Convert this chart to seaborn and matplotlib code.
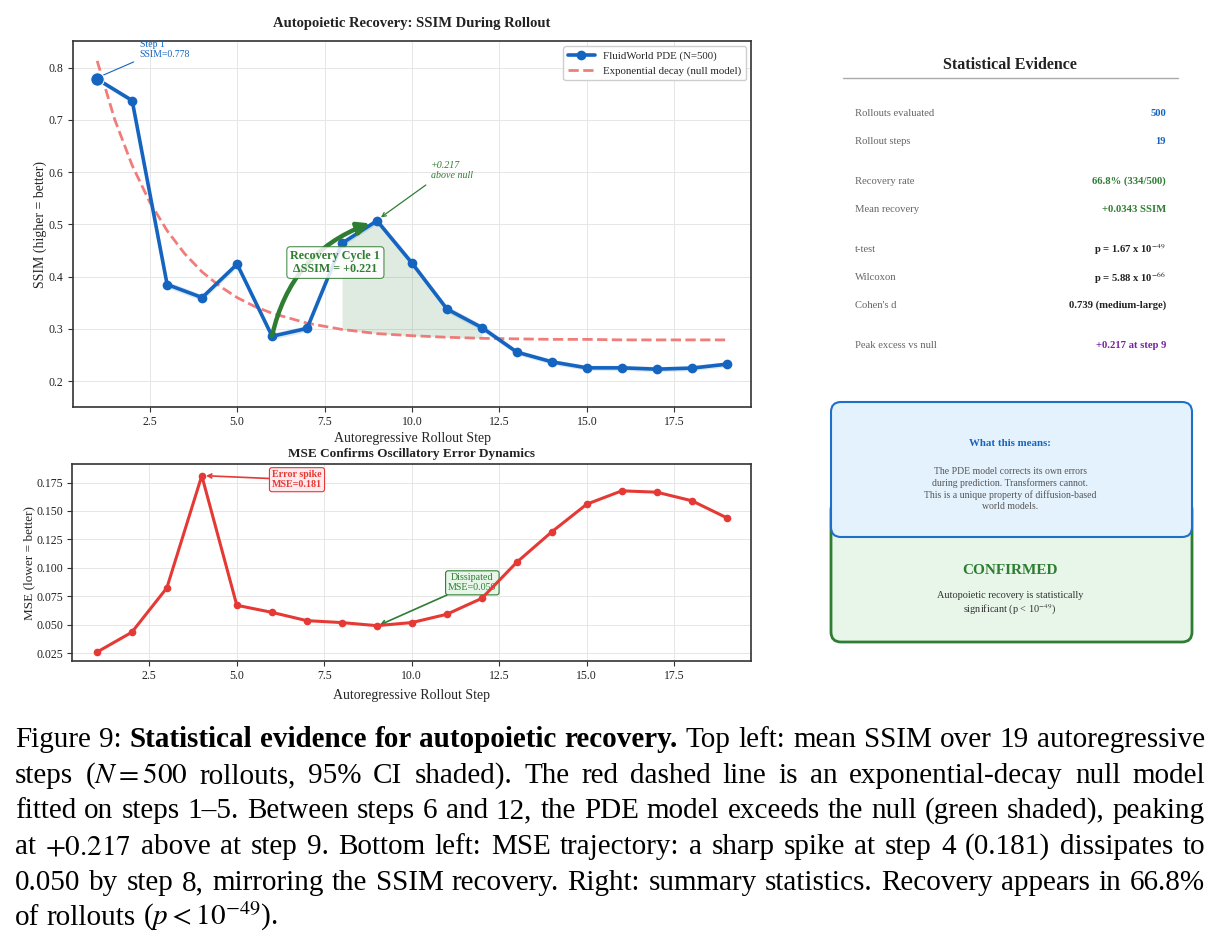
import numpy as np
import pandas as pd
import matplotlib
matplotlib.use("Agg")
import matplotlib.pyplot as plt
import seaborn as sns
from matplotlib.patches import FancyBboxPatch

# ---- data ----
steps = list(range(1, 20))
ssim = [0.778, 0.737, 0.385, 0.360, 0.424, 0.286, 0.301, 0.464, 0.507, 0.426,
        0.338, 0.3025, 0.2555, 0.237, 0.2255, 0.2255, 0.223, 0.225, 0.2325]
ssim_ci = [0.004, 0.005, 0.006, 0.006, 0.006, 0.006, 0.006, 0.006, 0.006, 0.006,
           0.006, 0.006, 0.005, 0.005, 0.005, 0.005, 0.005, 0.005, 0.005]
null_steps = [1, 1.5, 2, 2.5, 3, 3.5, 4, 4.5, 5, 5.5, 6, 7, 8, 9, 10, 11, 12,
              13, 14, 15, 16, 17, 18, 19]
null_ssim = [0.813, 0.701, 0.613, 0.543, 0.488, 0.444, 0.409, 0.382, 0.360, 0.343,
             0.330, 0.311, 0.299, 0.291, 0.287, 0.284, 0.282, 0.281, 0.280, 0.280,
             0.279, 0.279, 0.279, 0.279]
mse = [0.026, 0.0435, 0.0824, 0.181, 0.0672, 0.061, 0.0537, 0.052, 0.0493, 0.052,
       0.0593, 0.0733, 0.105, 0.1317, 0.156, 0.1677, 0.1665, 0.159, 0.144]

stat_labels = ["Rollouts evaluated", "Rollout steps", "Recovery rate", "Mean recovery",
               "t-test", "Wilcoxon", "Cohen's d", "Peak excess vs null"]
stat_values = ["500", "19", "66.8% (334/500)", "+0.0343 SSIM",
               r"p = 1.67 x 10$^{-49}$", r"p = 5.88 x 10$^{-66}$",
               "0.739 (medium-large)", "+0.217 at step 9"]

caption_lines = [
    "Figure 9: *Statistical *evidence *for *autopoietic *recovery. Top left: mean SSIM over 19 autoregressive",
    "steps ($N=500$ rollouts, 95% CI shaded). The red dashed line is an exponential-decay null model",
    "fitted on steps 1\u20135. Between steps 6 and 12, the PDE model exceeds the null (green shaded), peaking",
    "at $+0.217$ above at step 9. Bottom left: MSE trajectory: a sharp spike at step 4 (0.181) dissipates to",
    "0.050 by step 8, mirroring the SSIM recovery. Right: summary statistics. Recovery appears in 66.8%",
    "of rollouts ($p<10^{-49}$).",
]

BLUE = "#1565c0"
RED = "#e53935"
NULLRED = "#ef6f6c"
GREEN = "#2e7d32"
PURPLE = "#7b1fa2"

sns.set_theme(style="whitegrid")
plt.rcParams["font.family"] = ["Liberation Serif", "DejaVu Serif"]
plt.rcParams["mathtext.fontset"] = "stix"

W, H = 1221, 935
fig = plt.figure(figsize=(W / 100, H / 100), dpi=100)


def style_axes(ax):
    for s in ax.spines.values():
        s.set_visible(True)
        s.set_color("#333333")
        s.set_linewidth(1.2)
    ax.grid(True, color="#e6e6e6", lw=0.7)
    ax.tick_params(axis="both", labelsize=8.5, length=3.5, width=0.8, color="#333333",
                   left=True, bottom=True, pad=3, labelcolor="#222222")


# ---- top: SSIM ----
ax1 = fig.add_axes([72.7 / W, 1 - 407.3 / H, 678.6 / W, 366.3 / H])
df = pd.DataFrame({"step": steps, "ssim": ssim, "ci": ssim_ci})
dn = pd.DataFrame({"step": null_steps, "null": null_ssim})

lo = [s - c for s, c in zip(ssim, ssim_ci)]
hi = [s + c for s, c in zip(ssim, ssim_ci)]
ax1.fill_between(steps, lo, hi, color=BLUE, alpha=0.15, lw=0, zorder=2)

rec = df.merge(dn, on="step")
rec = rec[(rec["step"] >= 8) & (rec["step"] <= 12)]
ax1.fill_between(rec["step"], rec["null"], rec["ssim"], color=GREEN, alpha=0.15,
                 lw=0, zorder=1)

sns.lineplot(data=df, x="step", y="ssim", ax=ax1, color=BLUE, lw=2.6, marker="o",
             markersize=7, markeredgewidth=0, label="FluidWorld PDE (N=500)", zorder=4)
sns.lineplot(data=dn, x="step", y="null", ax=ax1, color=NULLRED, lw=2, ls="--",
             alpha=0.9, label="Exponential decay (null model)", zorder=3)
ax1.scatter([steps[0]], [ssim[0]], s=95, color=BLUE, edgecolor="white", lw=0.8, zorder=6)

ax1.set_xlim(0.3, 19.7)
ax1.set_ylim(0.15, 0.851)
ax1.set_xticks([2.5, 5.0, 7.5, 10.0, 12.5, 15.0, 17.5])
ax1.set_yticks([0.2, 0.3, 0.4, 0.5, 0.6, 0.7, 0.8])
style_axes(ax1)
ax1.set_xlabel("Autoregressive Rollout Step", fontsize=10, labelpad=3)
ax1.set_ylabel("SSIM (higher = better)", fontsize=10, labelpad=1)
ax1.set_title("Autopoietic Recovery: SSIM During Rollout", fontsize=10.5,
              fontweight="bold", pad=10, color="#222222")
ax1.legend(loc="upper right", fontsize=7.8, frameon=True, framealpha=0.95,
           edgecolor="#cccccc", fancybox=True, handlelength=2.5)

ax1.annotate("Step 1\nSSIM=0.778", xy=(1.15, 0.785), xytext=(2.21, 0.834),
             fontsize=7, color=BLUE, ha="left", va="center", linespacing=1.15,
             arrowprops=dict(arrowstyle="-", color=BLUE, lw=0.8, relpos=(0, 0),
                             shrinkA=2, shrinkB=0))
ax1.annotate("", xy=(8.8, 0.502), xytext=(6.0, 0.287),
             arrowprops=dict(arrowstyle="-|>,head_length=0.6,head_width=0.3",
                             color=GREEN, lw=3.2,
                             connectionstyle="arc3,rad=-0.27", shrinkA=0, shrinkB=0),
             zorder=5)
ax1.text(7.81, 0.427, "Recovery Cycle 1\n\u0394SSIM = +0.221", fontsize=8.7,
         fontweight="bold", color=GREEN, ha="center", va="center", linespacing=1.05,
         zorder=7,
         bbox=dict(boxstyle="round,pad=0.3", fc="white", ec=GREEN, lw=0.8, alpha=0.85))
ax1.annotate("+0.217\nabove null", xy=(9.08, 0.512), xytext=(10.53, 0.603),
             fontsize=7.2, style="italic", color=GREEN, ha="left", va="center",
             linespacing=1.15,
             arrowprops=dict(arrowstyle="->", color=GREEN, lw=0.9, relpos=(0.05, 0),
                             shrinkA=2, shrinkB=1))

# ---- bottom: MSE ----
ax2 = fig.add_axes([72.3 / W, 1 - 661.3 / H, 679.0 / W, 197.0 / H])
dm = pd.DataFrame({"step": steps, "mse": mse})
sns.lineplot(data=dm, x="step", y="mse", ax=ax2, color=RED, lw=2.2, marker="o",
             markersize=5.5, markeredgewidth=0, zorder=4)
ax2.set_xlim(0.3, 19.7)
ax2.set_ylim(0.018, 0.191)
ax2.set_xticks([2.5, 5.0, 7.5, 10.0, 12.5, 15.0, 17.5])
ax2.set_yticks([0.025, 0.05, 0.075, 0.1, 0.125, 0.15, 0.175])
ax2.set_yticklabels(["0.025", "0.050", "0.075", "0.100", "0.125", "0.150", "0.175"])
style_axes(ax2)
ax2.set_xlabel("Autoregressive Rollout Step", fontsize=10, labelpad=5)
ax2.set_ylabel("MSE (lower = better)", fontsize=9.5, labelpad=1)
ax2.set_title("MSE Confirms Oscillatory Error Dynamics", fontsize=9.5,
              fontweight="bold", pad=5, color="#222222")
ax2.annotate("Error spike\nMSE=0.181", xy=(4.08, 0.181), xytext=(6.72, 0.1775),
             fontsize=7.2, fontweight="bold", color=RED, ha="center", va="center",
             linespacing=1.15,
             bbox=dict(boxstyle="round,pad=0.25", fc="#ffebee", ec=RED, lw=0.8),
             arrowprops=dict(arrowstyle="->", color=RED, lw=1.2, shrinkA=0, shrinkB=1))
ax2.annotate("Dissipated\nMSE=0.050", xy=(9.05, 0.0495), xytext=(11.73, 0.0869),
             fontsize=7.2, color=GREEN, ha="center", va="center", linespacing=1.15,
             bbox=dict(boxstyle="round,pad=0.25", fc="#e8f5e9", ec=GREEN, lw=0.8),
             arrowprops=dict(arrowstyle="->", color=GREEN, lw=1.2, relpos=(0.1, 0),
                             shrinkA=0, shrinkB=1))

# ---- right: statistics panel (axes in pixel units) ----
ax3 = fig.add_axes([825 / W, 1 - 660 / H, 375 / W, 625 / H])
ax3.set_xlim(825, 1200)
ax3.set_ylim(660, 35)
ax3.axis("off")

ax3.text(1010, 65, "Statistical Evidence", fontsize=11.5, fontweight="bold",
         ha="center", va="center", color="#222222")
ax3.plot([843, 1178], [78, 78], color="#aaaaaa", lw=1)
row_y = [113, 141, 181, 209, 250, 278, 305, 346]
row_c = [BLUE, BLUE, GREEN, GREEN, "#222222", "#222222", "#222222", PURPLE]
for lab, val, yy, cc in zip(stat_labels, stat_values, row_y, row_c):
    ax3.text(855, yy, lab, fontsize=7.7, color="#666666", ha="left", va="center")
    ax3.text(1166, yy, val, fontsize=7.7, color=cc, ha="right", va="center",
             fontweight="bold")

ax3.add_patch(FancyBboxPatch((831, 500), 361, 142,
                             boxstyle="round,pad=0,rounding_size=10",
                             fc="#e8f5e9", ec=GREEN, lw=2, zorder=2))
ax3.add_patch(FancyBboxPatch((831, 402), 361, 135,
                             boxstyle="round,pad=0,rounding_size=10",
                             fc="#e3f2fd", ec="#1e6fc8", lw=1.5, zorder=3))
ax3.text(1010, 443, "What this means:", fontsize=7.8, fontweight="bold", color=BLUE,
         ha="center", va="center", zorder=4)
ax3.text(1010, 489, "The PDE model corrects its own errors\nduring prediction. Transformers cannot.\n"
         "This is a unique property of diffusion-based\nworld models.",
         fontsize=7, color="#555555", ha="center", va="center", linespacing=1.3,
         zorder=4)
ax3.text(1010, 570, "CONFIRMED", fontsize=11, fontweight="bold", color=GREEN,
         ha="center", va="center", zorder=4)
ax3.text(1010, 604, "Autopoietic recovery is statistically\nsignificant (p < 10$^{-49}$)",
         fontsize=7.4, color="#333333", ha="center", va="center", linespacing=1.3,
         zorder=4)

# ---- caption (justified) ----
renderer = fig.canvas.get_renderer()
left_px, right_px = 15, 1205
baselines = [747, 783, 818, 854, 890, 925]


def tokens(line):
    out = []
    for w in line.split(" "):
        if w.startswith("*"):
            out.append((w[1:], "bold"))
        else:
            out.append((w, "normal"))
    return out


def measure(size):
    widths = []
    for line in caption_lines:
        ws = []
        for word, wt in tokens(line):
            t = fig.text(0, 0, word, fontsize=size, fontweight=wt)
            ws.append(t.get_window_extent(renderer).width)
            t.remove()
        widths.append(ws)
    return widths


size = 22.0
while True:
    widths = measure(size)
    space = 0.25 * size * 100 / 72
    nat = max(sum(ws) + space * (len(ws) - 1) for ws in widths)
    if nat <= right_px - left_px or size <= 12:
        break
    size -= 0.5

for i, line in enumerate(caption_lines):
    toks = tokens(line)
    ws = widths[i]
    if i < len(caption_lines) - 1 and len(toks) > 1:
        gap = (right_px - left_px - sum(ws)) / (len(toks) - 1)
    else:
        gap = space
    x = left_px
    for (word, wt), w in zip(toks, ws):
        fig.text(x / W, 1 - baselines[i] / H, word, fontsize=size, fontweight=wt,
                 ha="left", va="baseline", color="black")
        x += w + gap

fig.savefig("out.png", dpi=100)
